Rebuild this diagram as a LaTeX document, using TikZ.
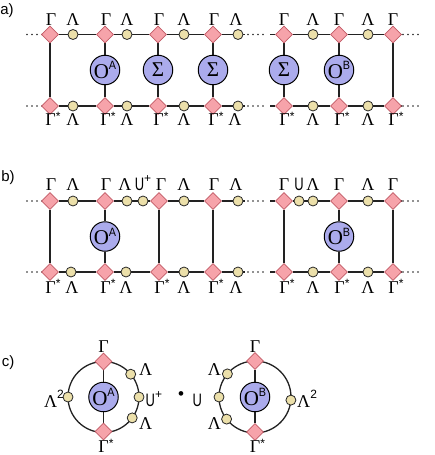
\documentclass[tikz,border=0pt]{standalone}
\usepackage{fontspec}
\setmainfont{Liberation Serif}
\newfontfamily\sansf{Liberation Sans}
\usetikzlibrary{shapes.geometric}
\pgfdeclarelayer{bg}
\pgfsetlayers{bg,main}
\definecolor{diafill}{HTML}{F6A3AA}
\definecolor{diadraw}{HTML}{C25A66}
\definecolor{scfill}{HTML}{ECE0AA}
\definecolor{bcfill}{HTML}{ABABEC}
\definecolor{linec}{HTML}{222222}
\newcommand{\Gs}{Γ\raisebox{0.3em}{\sansf\fontsize{12pt}{12pt}\selectfont *}}
\newcommand{\supA}[1]{\raisebox{0.42em}{\sansf\fontsize{12pt}{12pt}\selectfont\scalebox{0.9}[1]{#1}}}
\newcommand{\supL}[1]{\raisebox{0.5em}{\sansf\fontsize{12pt}{12pt}\selectfont #1}}
\newcommand{\nU}{\scalebox{0.72}[1]{U}}
\newcommand{\Uplus}{\nU\raisebox{0.42em}{\fontsize{12pt}{12pt}\selectfont +}}
\begin{document}
\begin{tikzpicture}[x=1pt,y=-1pt,
  dia/.style={diamond, draw=diadraw, fill=diafill, line width=0.8pt, minimum size=17pt, inner sep=0pt},
  sc/.style={circle, draw=black!85, fill=scfill, line width=0.8pt, minimum size=10pt, inner sep=0pt},
  bc/.style={circle, draw=black, fill=bcfill, line width=1pt, minimum size=29.5pt, inner sep=0pt, font=\fontsize{21pt}{21pt}\selectfont},
  lab/.style={inner sep=0pt, anchor=base, font=\fontsize{18pt}{18pt}\selectfont},
  slab/.style={inner sep=0pt, anchor=base, font=\sansf\fontsize{18pt}{18pt}\selectfont},
  ln/.style={line width=1.3pt, draw=linec},
  dts/.style={line width=1.7pt, draw=linec, line cap=round, dash pattern=on 0pt off 5pt}
]
\useasboundingbox (0,0) rectangle (435,455);

% section labels
\node[slab, font=\sansf\fontsize{15pt}{15pt}\selectfont] (la) at (7,14) {a)};
\node[slab, font=\sansf\fontsize{15pt}{15pt}\selectfont] (lb) at (8,181) {b)};
\node[slab, font=\sansf\fontsize{15pt}{15pt}\selectfont] (lc) at (8,366) {c)};

% ================= part a =================
\foreach \r/\y in {T/34.5,B/106}{
  \coordinate (a\r l) at (27,\y);
  \node[dia] (a\r d1) at (50,\y) {};
  \node[sc]  (a\r c1) at (73,\y) {};
  \node[dia] (a\r d2) at (105,\y) {};
  \node[sc]  (a\r c2) at (127,\y) {};
  \node[dia] (a\r d3) at (158,\y) {};
  \node[sc]  (a\r c3) at (184,\y) {};
  \node[dia] (a\r d4) at (213,\y) {};
  \node[sc]  (a\r c4) at (238,\y) {};
  \coordinate (a\r m0) at (245,\y);
  \coordinate (a\r m1) at (248,\y);
  \coordinate (a\r m2) at (263.5,\y);
  \coordinate (a\r m3) at (270,\y);
  \node[dia] (a\r d5) at (284,\y) {};
  \node[sc]  (a\r c5) at (313,\y) {};
  \node[dia] (a\r d6) at (339,\y) {};
  \node[sc]  (a\r c6) at (368,\y) {};
  \node[dia] (a\r d7) at (393,\y) {};
  \coordinate (a\r r0) at (400,\y);
  \coordinate (a\r r1) at (403,\y);
  \coordinate (a\r r2) at (418.5,\y);
}
\node[bc] (aO1) at (105,70) {O\supA{A}};
\node[bc] (aS1) at (158,70) {Σ};
\node[bc] (aS2) at (213,70) {Σ};
\node[bc] (aS3) at (284,70) {Σ};
\node[bc] (aO2) at (339,70) {O\supA{B}};

\begin{pgfonlayer}{bg}
\foreach \r in {T,B}{
  \draw[dts] (a\r l) -- (43,0|-a\r l);
  \draw[ln] (a\r d1) -- (a\r c1) -- (a\r d2) -- (a\r c2) -- (a\r d3) -- (a\r c3) -- (a\r d4) -- (a\r c4) -- (a\r m0);
  \draw[dts] (a\r m1) -- (a\r m2);
  \draw[ln] (a\r m3) -- (a\r d5) -- (a\r c5) -- (a\r d6) -- (a\r c6) -- (a\r d7) -- (a\r r0);
  \draw[dts] (a\r r1) -- (a\r r2);
}
\draw[ln] (aTd1) -- (aBd1);
\draw[ln] (aTd2) -- (aO1) -- (aBd2);
\draw[ln] (aTd3) -- (aS1) -- (aBd3);
\draw[ln] (aTd4) -- (aS2) -- (aBd4);
\draw[ln] (aTd5) -- (aS3) -- (aBd5);
\draw[ln] (aTd6) -- (aO2) -- (aBd6);
\draw[ln] (aTd7) -- (aBd7);
\end{pgfonlayer}

% labels a top
\foreach \x/\t [count=\i] in {51/Γ,73/Λ,106/Γ,127/Λ,159/Γ,184/Λ,214/Γ,236/Λ,284/Γ,313/Λ,339/Γ,368/Λ,393/Γ}
  \node[lab] (aTL\i) at (\x,25.5) {\t};
% labels a bottom
\foreach \x/\t [count=\i] in {53/\Gs,73/Λ,108/\Gs,127/Λ,161/\Gs,184/Λ,216/\Gs,235/Λ,287/\Gs,313/Λ,342/\Gs,368/Λ,396/\Gs}
  \node[lab] (aBL\i) at (\x,125.5) {\t};

% ================= part b =================
\coordinate (bTl) at (27,201);
\node[dia] (bTd1) at (50,201) {};
\node[sc]  (bTc1) at (73,201) {};
\node[dia] (bTd2) at (105,201) {};
\node[sc]  (bTc2) at (127,201) {};
\node[sc]  (bTc2b) at (143,201) {};
\node[dia] (bTd3) at (159,201) {};
\node[sc]  (bTc3) at (184,201) {};
\node[dia] (bTd4) at (213,201) {};
\node[sc]  (bTc4) at (238,201) {};
\coordinate (bTm0) at (245,201);
\coordinate (bTm1) at (248,201);
\coordinate (bTm2) at (263.5,201);
\coordinate (bTm3) at (270,201);
\node[dia] (bTd5) at (284,201) {};
\node[sc]  (bTc5a) at (299,201) {};
\node[sc]  (bTc5) at (313,201) {};
\node[dia] (bTd6) at (339,201) {};
\node[sc]  (bTc6) at (368,201) {};
\node[dia] (bTd7) at (393,201) {};
\coordinate (bTr0) at (400,201);
\coordinate (bTr1) at (403,201);
\coordinate (bTr2) at (418.5,201);

\coordinate (bBl) at (27,272);
\node[dia] (bBd1) at (50,272) {};
\node[sc]  (bBc1) at (71,272) {};
\node[dia] (bBd2) at (105,272) {};
\node[sc]  (bBc2) at (126,272) {};
\node[dia] (bBd3) at (159,272) {};
\node[sc]  (bBc3) at (184,272) {};
\node[dia] (bBd4) at (213,272) {};
\node[sc]  (bBc4) at (238,272) {};
\coordinate (bBm0) at (245,272);
\coordinate (bBm1) at (248,272);
\coordinate (bBm2) at (263.5,272);
\coordinate (bBm3) at (270,272);
\node[dia] (bBd5) at (284,272) {};
\node[sc]  (bBc5) at (313,272) {};
\node[dia] (bBd6) at (339,272) {};
\node[sc]  (bBc6) at (368,272) {};
\node[dia] (bBd7) at (393,272) {};
\coordinate (bBr0) at (400,272);
\coordinate (bBr1) at (403,272);
\coordinate (bBr2) at (418.5,272);

\node[bc] (bO1) at (105,236.5) {O\supA{A}};
\node[bc] (bO2) at (339,236.5) {O\supA{B}};

\begin{pgfonlayer}{bg}
\draw[dts] (bTl) -- (43,201);
\draw[ln] (bTd1) -- (bTc1) -- (bTd2) -- (bTc2) -- (bTc2b) -- (bTd3) -- (bTc3) -- (bTd4) -- (bTc4) -- (bTm0);
\draw[dts] (bTm1) -- (bTm2);
\draw[ln] (bTm3) -- (bTd5) -- (bTc5a) -- (bTc5) -- (bTd6) -- (bTc6) -- (bTd7) -- (bTr0);
\draw[dts] (bTr1) -- (bTr2);
\draw[dts] (bBl) -- (43,272);
\draw[ln] (bBd1) -- (bBc1) -- (bBd2) -- (bBc2) -- (bBd3) -- (bBc3) -- (bBd4) -- (bBc4) -- (bBm0);
\draw[dts] (bBm1) -- (bBm2);
\draw[ln] (bBm3) -- (bBd5) -- (bBc5) -- (bBd6) -- (bBc6) -- (bBd7) -- (bBr0);
\draw[dts] (bBr1) -- (bBr2);
\draw[ln] (bTd1) -- (bBd1);
\draw[ln] (bTd2) -- (bO1) -- (bBd2);
\draw[ln] (bTd3) -- (bBd3);
\draw[ln] (bTd4) -- (bBd4);
\draw[ln] (bTd5) -- (bBd5);
\draw[ln] (bTd6) -- (bO2) -- (bBd6);
\draw[ln] (bTd7) -- (bBd7);
\end{pgfonlayer}

% labels b top
\foreach \x/\t [count=\i] in {51/Γ,73/Λ,106/Γ,125/Λ,161/Γ,184/Λ,214/Γ,236/Λ,284/Γ,313/Λ,339/Γ,368/Λ,393/Γ}
  \node[lab] (bTL\i) at (\x,190.5) {\t};
\node[slab] (bTU1) at (143,190.5) {\Uplus};
\node[slab] (bTU2) at (299,190.5) {\nU};
% labels b bottom
\foreach \x/\t [count=\i] in {53/\Gs,72/Λ,108/\Gs,126/Λ,162/\Gs,184/Λ,216/\Gs,236/Λ,287/\Gs,313/Λ,342/\Gs,368/Λ,396/\Gs}
  \node[lab] (bBL\i) at (\x,293) {\t};

% ================= part c =================
\coordinate (rA) at (103.5,397);
\coordinate (rB) at (255,397);
\node[dia] (cAt) at (103.5,361.5) {};
\node[dia] (cAb) at (103.5,431.5) {};
\node[bc]  (cAO) at (103.5,397) {O\supA{A}};
\node[sc]  (cAl) at (68,397) {};
\node[sc]  (cAur) at (130.7,374.2) {};
\node[sc]  (cAr) at (139,397) {};
\node[sc]  (cAlr) at (132.2,417.9) {};

\node[dia] (cBt) at (255,361) {};
\node[dia] (cBb) at (255,432) {};
\node[bc]  (cBO) at (255,397) {O\supA{B}};
\node[sc]  (cBul) at (227.4,373.9) {};
\node[sc]  (cBl) at (219,397) {};
\node[sc]  (cBll) at (226.6,419.1) {};
\node[sc]  (cBr) at (290.9,400.1) {};

\begin{pgfonlayer}{bg}
\draw[ln] (rA) circle[radius=35.5];
\draw[ln] (rB) circle[radius=36];
\draw[ln] (cAt) -- (cAO) -- (cAb);
\draw[ln] (cBt) -- (cBO) -- (cBb);
\end{pgfonlayer}

\node[lab] (cAG) at (103.5,352) {Γ};
\node[lab] (cAGs) at (106,452.6) {\Gs};
\node[lab, anchor=base east] (cAL2) at (64,407.5) {Λ\supL{2}};
\node[lab, anchor=base west] (cAL1) at (139,375) {Λ};
\node[slab, anchor=base west] (cAU) at (145.5,406.5) {\Uplus};
\node[lab, anchor=base west] (cAL3) at (139,429.5) {Λ};
\node[inner sep=0pt, font=\sansf\fontsize{17pt}{17pt}\selectfont] (dot) at (181,395.5) {•};
\node[slab, anchor=base west] (cU) at (192.5,406.5) {\nU};

\node[lab] (cBG) at (255,352) {Γ};
\node[lab] (cBGs) at (257.5,452.6) {\Gs};
\node[lab, anchor=base east] (cBL1) at (221,375) {Λ};
\node[lab, anchor=base east] (cBL3) at (221,429.5) {Λ};
\node[lab, anchor=base west] (cBL2) at (297,407.5) {Λ\supL{2}};
\end{tikzpicture}
\end{document}
